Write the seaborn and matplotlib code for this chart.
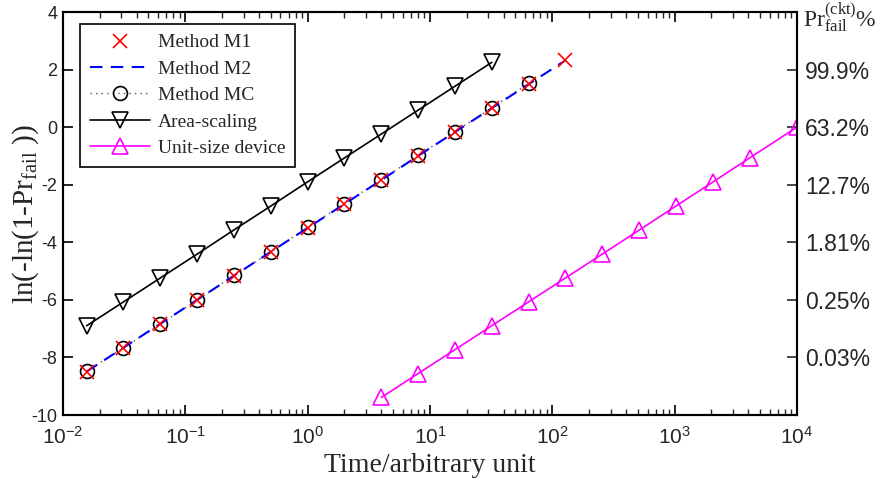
import numpy as np
import pandas as pd
import matplotlib
matplotlib.use("Agg")
import matplotlib.pyplot as plt
from matplotlib.ticker import FixedLocator, LogLocator, NullFormatter, FixedFormatter
import seaborn as sns

# ---- data -------------------------------------------------------------
t_m1 = [1/64, 1/32, 1/16, 1/8, 1/4, 1/2, 1, 2, 4, 8, 16, 32, 64, 128]
y_m1 = [-8.52, -7.68, -6.84, -6.02, -5.17, -4.33, -3.50, -2.67, -1.84, -1.01, -0.18, 0.66, 1.50, 2.32]

t_m2 = [1/64, 1/32, 1/16, 1/8, 1/4, 1/2, 1, 2, 4, 8, 16, 32, 64, 128]
y_m2 = [-8.49, -7.66, -6.83, -6.00, -5.16, -4.33, -3.50, -2.67, -1.84, -1.00, -0.17, 0.66, 1.49, 2.32]

t_mc = [1/64, 1/32, 1/16, 1/8, 1/4, 1/2, 1, 2, 4, 8, 16, 32, 64]
y_mc = [-8.47, -7.67, -6.84, -6.01, -5.15, -4.34, -3.48, -2.66, -1.83, -0.98, -0.16, 0.67, 1.52]

t_area = [1/64, 1/32, 1/16, 1/8, 1/4, 1/2, 1, 2, 4, 8, 16, 32]
y_area = [-6.90, -6.07, -5.24, -4.41, -3.57, -2.74, -1.90, -1.07, -0.24, 0.59, 1.42, 2.25]

t_unit = [4, 8, 16, 32, 64, 128, 256, 512, 1024, 2048, 4096, 10000]
y_unit = [-9.39, -8.56, -7.73, -6.90, -6.07, -5.24, -4.41, -3.58, -2.74, -1.91, -1.07, 0.00]

left_ticks = [-10, -8, -6, -4, -2, 0, 2, 4]
right_ticks = [-8, -6, -4, -2, 0, 2]
right_labels = ["0.03%", "0.25%", "1.81%", "12.7%", "63.2%", "99.9%"]
x_decades = [-2, -1, 0, 1, 2, 3, 4]

# ---- style ------------------------------------------------------------
sns.set_style("ticks")
plt.rcParams["font.family"] = ["Liberation Sans", "DejaVu Sans"]
plt.rcParams["mathtext.fontset"] = "custom"
plt.rcParams["mathtext.rm"] = "Liberation Serif"
plt.rcParams["mathtext.it"] = "Liberation Serif:italic"
plt.rcParams["mathtext.sf"] = "Liberation Sans"
plt.rcParams["axes.linewidth"] = 1.5

fig = plt.figure(figsize=(8.83, 4.8), dpi=100)
ax = fig.add_axes([0.0713, 0.1354, 0.8313, 0.8396])

df_m1 = pd.DataFrame({"t": t_m1, "y": y_m1})
df_m2 = pd.DataFrame({"t": t_m2, "y": y_m2})
df_mc = pd.DataFrame({"t": t_mc, "y": y_mc})
df_area = pd.DataFrame({"t": t_area, "y": y_area})
df_unit = pd.DataFrame({"t": t_unit, "y": y_unit})

sns.lineplot(data=df_area, x="t", y="y", ax=ax, color="black", lw=1.2,
             marker="v", ms=11, mfc="none", mec="black", mew=1.2,
             sort=False, label="Area-scaling")
sns.lineplot(data=df_unit, x="t", y="y", ax=ax, color="magenta", lw=1.2,
             marker="^", ms=11, mfc="none", mec="magenta", mew=1.2,
             sort=False, label="Unit-size device")
sns.lineplot(data=df_mc, x="t", y="y", ax=ax, color="#555555", lw=1.0,
             linestyle=(0, (1, 3)), marker="o", ms=10, mfc="none",
             mec="black", mew=1.2, sort=False, label="Method MC")
sns.lineplot(data=df_m2, x="t", y="y", ax=ax, color="blue", lw=1.5,
             linestyle=(0, (6, 4)), sort=False, label="Method M2")
sns.lineplot(data=df_m1, x="t", y="y", ax=ax, color="red",
             linestyle="none", marker="x", ms=10, mec="red", mew=1.2,
             sort=False, label="Method M1")

ax.set_xscale("log")
ax.set_xlim(1e-2, 1e4)
ax.set_ylim(-10, 4)

# x ticks: decades with superscript exponents, log minor ticks
ax.xaxis.set_major_locator(FixedLocator([10.0 ** d for d in x_decades]))
ax.xaxis.set_major_formatter(FixedFormatter(
    [r"$\mathsf{10}^{\mathsf{%d}}$" % d for d in x_decades]))
ax.xaxis.set_minor_locator(LogLocator(base=10, subs=np.arange(2, 10), numticks=50))
ax.xaxis.set_minor_formatter(NullFormatter())

ax.yaxis.set_major_locator(FixedLocator(left_ticks))
ax.set_yticklabels([str(v) for v in left_ticks])

ax.tick_params(axis="both", which="major", direction="in", length=7, width=1.2,
               top=True, right=False, color="black")
ax.tick_params(axis="x", which="minor", direction="in", length=4, width=1.0,
               top=True)
ax.tick_params(axis="y", which="major", labelsize=13, pad=4)
ax.tick_params(axis="x", which="major", labelsize=15, pad=8)
for s in ax.spines.values():
    s.set_visible(True)
    s.set_linewidth(1.5)
    s.set_color("black")

# right-hand probability scale
ax2 = ax.twinx()
ax2.set_ylim(ax.get_ylim())
ax2.yaxis.set_major_locator(FixedLocator(right_ticks))
ax2.yaxis.set_major_formatter(FixedFormatter(right_labels))
ax2.tick_params(axis="y", direction="in", length=7, width=1.2, labelsize=16.5, pad=6)
for s in ax2.spines.values():
    s.set_linewidth(1.5)
ax2.set_zorder(ax.get_zorder() - 1)
ax.patch.set_visible(False)

ax.set_xlabel("Time/arbitrary unit", fontsize=20, family="Liberation Serif", labelpad=4)
ax.set_ylabel(r"ln(-ln(1-Pr$_{\mathrm{fail}}$ ))", fontsize=21,
              family="Liberation Serif")
ax.yaxis.set_label_coords(-0.030, 0.5)
fig.text(0.909, 0.945, r"Pr$^{\mathrm{(ckt)}}_{\mathrm{fail}}$%", fontsize=17,
         family="Liberation Serif", ha="left", va="baseline")

# legend in the fixed order
handles, labels = ax.get_legend_handles_labels()
order = ["Method M1", "Method M2", "Method MC", "Area-scaling", "Unit-size device"]
hmap = dict(zip(labels, handles))
leg = ax.legend([hmap[k] for k in order], order, loc="upper left",
                bbox_to_anchor=(0.023, 0.970), borderaxespad=0.0,
                frameon=True, fancybox=False,
                edgecolor="black", framealpha=1, handlelength=3.1,
                handletextpad=0.4, labelspacing=0.45, borderpad=0.5,
                prop={"family": "Liberation Serif", "size": 14})
leg.get_frame().set_linewidth(1.2)

fig.savefig("out.png", dpi=100)
